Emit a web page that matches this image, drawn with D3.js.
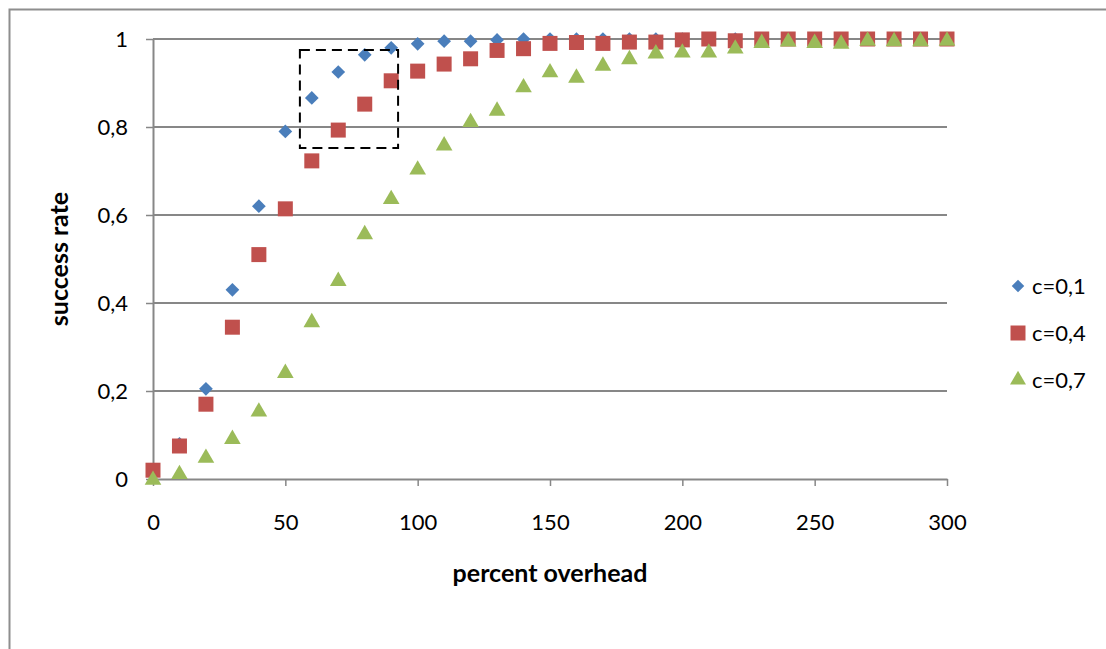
<!DOCTYPE html>
<html>
<head>
<meta charset="utf-8">
<script src="https://cdn.jsdelivr.net/npm/d3@7"></script>
<style>
  body { margin: 0; background: #fff; }
  text { font-family: Lato, "Open Sans", sans-serif; fill: #000; }
</style>
</head>
<body>
<svg id="drawing_region"></svg>
<script>
// overhead values (percent)
var overhead = [0, 10, 20, 30, 40, 50, 60, 70, 80, 90, 100, 110, 120, 130, 140, 150,
                160, 170, 180, 190, 200, 210, 220, 230, 240, 250, 260, 270, 280, 290, 300];

var c01 = [0.01, 0.08, 0.205, 0.43, 0.62, 0.79, 0.866, 0.925, 0.964, 0.98, 0.989, 0.995, 0.995, 0.998, 1,
           1, 1, 1, 1, 1, 1, 1, 1, 1, 1, 1, 1, 1, 1, 1, 1];
var c04 = [0.02, 0.075, 0.17, 0.345, 0.51, 0.614, 0.723, 0.793, 0.852, 0.905, 0.927, 0.943, 0.955, 0.974, 0.978,
           0.99, 0.992, 0.99, 0.993, 0.993, 0.998, 1, 0.996, 1, 1, 1, 1, 1, 1, 1, 1];
var c07 = [0, 0.013, 0.05, 0.093, 0.155, 0.243, 0.358, 0.452, 0.558, 0.638, 0.705, 0.76, 0.813, 0.839, 0.892,
           0.926, 0.914, 0.941, 0.956, 0.969, 0.971, 0.971, 0.98, 0.993, 0.996, 0.993, 0.991, 0.998, 0.997, 0.997, 0.998];

var seriesNames = ['c=0,1', 'c=0,4', 'c=0,7'];
var xTicks = [0, 50, 100, 150, 200, 250, 300];
var yTicks = [0, 0.2, 0.4, 0.6, 0.8, 1];
// highlighted region (dashed box)
var boxX = [55.5, 92.6];
var boxY = [0.752, 0.975];

var width = 1106;
var height = 649;
var margin = {top: 39, right: 159, bottom: 170, left: 153};
const inner_width = width - margin.left - margin.right;
const inner_height = height - margin.top - margin.bottom;

var svg = d3.select('#drawing_region')
    .attr('width', width)
    .attr('height', height);

// outer chart frame (runs past the window)
svg.append('rect')
    .attr('x', 9.5).attr('y', 9.5)
    .attr('width', 1200).attr('height', 800)
    .attr('fill', 'none')
    .attr('stroke', '#8e8e8e')
    .attr('stroke-width', 2);

var chart = svg.append('g')
    .attr('transform', `translate(${margin.left}, ${margin.top})`);

const xscale = d3.scaleLinear().domain([0, 300]).range([0, inner_width]);
const yscale = d3.scaleLinear().domain([0, 1]).range([inner_height, 0]);

const fmt = d => String(+d.toFixed(1)).replace('.', ',');

// gridlines
chart.append('g')
    .selectAll('line')
    .data(yTicks.filter(d => d > 0))
    .join('line')
    .attr('x1', 0).attr('x2', inner_width)
    .attr('y1', d => yscale(d)).attr('y2', d => yscale(d))
    .attr('stroke', '#878787')
    .attr('stroke-width', 2);

// axes
const xaxis = d3.axisBottom(xscale).tickValues(xTicks).tickSize(7).tickSizeOuter(0).tickPadding(28);
const yaxis = d3.axisLeft(yscale).tickValues(yTicks).tickSize(7).tickSizeOuter(0).tickPadding(18).tickFormat(fmt);

const xaxis_group = chart.append('g')
    .attr('transform', `translate(0, ${inner_height})`)
    .call(xaxis);
const yaxis_group = chart.append('g')
    .call(yaxis);

[xaxis_group, yaxis_group].forEach(g => {
  g.select('.domain').attr('stroke', '#878787').attr('stroke-width', 2);
  g.selectAll('.tick line').attr('stroke', '#878787').attr('stroke-width', 1.5);
  g.selectAll('.tick text').attr('font-size', 22).attr('font-family', 'Lato, sans-serif').attr('fill', '#000');
});

// axis titles
svg.append('text')
    .attr('x', margin.left + xscale(150))
    .attr('y', 582)
    .attr('text-anchor', 'middle')
    .attr('font-size', 25)
    .attr('font-weight', 'bold')
    .text('percent overhead');

svg.append('text')
    .attr('transform', `translate(68, ${margin.top + yscale(0.5)}) rotate(-90)`)
    .attr('text-anchor', 'middle')
    .attr('font-size', 25)
    .attr('font-weight', 'bold')
    .text('success rate');

// markers
const colors = ['#4a7ebb', '#c0504d', '#9bbb59'];
const symbolTypes = [d3.symbolDiamond2, d3.symbolSquare, d3.symbolTriangle];
const symbolSizes = [120, 225, 120];
const seriesData = [c01, c04, c07];

seriesData.forEach((vals, i) => {
  chart.append('g')
    .selectAll('path')
    .data(overhead.map((x, j) => ({x: x, y: vals[j]})))
    .join('path')
    .attr('d', d3.symbol().type(symbolTypes[i]).size(symbolSizes[i])())
    .attr('transform', d => `translate(${xscale(d.x)}, ${yscale(d.y) + (i === 2 ? 1 : 0)})`)
    .attr('fill', colors[i]);
});

// dashed highlight box
chart.append('rect')
    .attr('x', xscale(boxX[0]))
    .attr('y', yscale(boxY[1]))
    .attr('width', xscale(boxX[1]) - xscale(boxX[0]))
    .attr('height', yscale(boxY[0]) - yscale(boxY[1]))
    .attr('fill', 'none')
    .attr('stroke', '#000')
    .attr('stroke-width', 2)
    .attr('stroke-dasharray', '10,6');

// legend
const legend = svg.append('g').attr('transform', 'translate(1018, 286)');
seriesNames.forEach((name, i) => {
  const row = legend.append('g').attr('transform', `translate(0, ${i * 47})`);
  row.append('path')
    .attr('d', d3.symbol().type(symbolTypes[i]).size([100, 225, 110][i])())
    .attr('fill', colors[i]);
  row.append('text')
    .attr('x', 14)
    .attr('y', 8)
    .attr('font-size', 22)
    .text(name);
});
</script>
</body>
</html>
